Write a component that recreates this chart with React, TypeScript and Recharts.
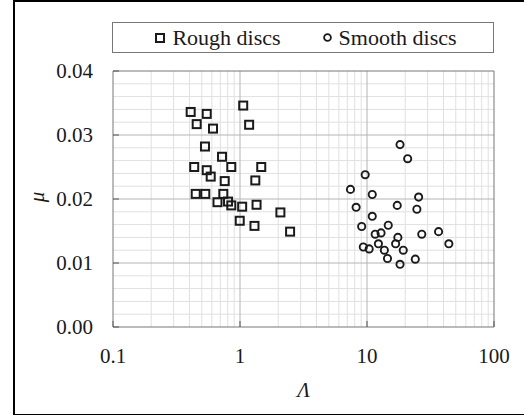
import React from 'react';
import { ScatterChart, Scatter, XAxis, YAxis, ReferenceLine, Legend, Label } from 'recharts';

// Rough discs: film parameter Λ and friction coefficient μ
const roughLambda = [0.409, 0.547, 1.06, 0.456, 0.613, 1.18, 0.53, 0.722, 0.436, 0.547, 0.854, 1.47, 0.588, 0.758, 1.32, 0.448, 0.533, 0.739, 0.665, 0.805, 0.854, 1.04, 1.35, 2.08, 0.995, 1.3, 2.48];
const roughMu = [0.0336, 0.0333, 0.0346, 0.0317, 0.031, 0.0316, 0.0282, 0.0266, 0.025, 0.0245, 0.025, 0.025, 0.0235, 0.0228, 0.0229, 0.0208, 0.0208, 0.0208, 0.0195, 0.0196, 0.019, 0.0188, 0.0191, 0.0179, 0.0166, 0.0158, 0.0149];

// Smooth discs
const smoothLambda = [18.2, 20.9, 9.68, 7.41, 11.0, 25.5, 17.3, 8.21, 24.7, 11.0, 9.08, 14.7, 11.6, 12.9, 17.5, 27.0, 36.6, 44.1, 9.35, 10.4, 12.3, 13.7, 16.8, 19.3, 14.5, 24.0, 18.2];
const smoothMu = [0.0285, 0.0263, 0.0238, 0.0215, 0.0207, 0.0203, 0.019, 0.0187, 0.0184, 0.0173, 0.0157, 0.0159, 0.0145, 0.0147, 0.014, 0.0145, 0.0149, 0.013, 0.0125, 0.0122, 0.013, 0.012, 0.013, 0.012, 0.0107, 0.0106, 0.0098];

const xTicks = [0.1, 1, 10, 100];
const yTicks = [0, 0.01, 0.02, 0.03, 0.04];
const xMajorGrid = [1, 10];
const yMajorGrid = [0.01, 0.02, 0.03];
const xMinorGrid = [0.2, 0.3, 0.4, 0.5, 0.6, 0.7, 0.8, 0.9, 2, 3, 4, 5, 6, 7, 8, 9, 20, 30, 40, 50, 60, 70, 80, 90];
const yMinorGrid = [0.002, 0.004, 0.006, 0.008, 0.012, 0.014, 0.016, 0.018, 0.022, 0.024, 0.026, 0.028, 0.032, 0.034, 0.036, 0.038];

const roughData = roughLambda.map((x, i) => ({ x, y: roughMu[i] }));
const smoothData = smoothLambda.map((x, i) => ({ x, y: smoothMu[i] }));

const FONT = '"Liberation Serif", serif';
const INK = '#1a1a1a';
const TEXT = '#1a1a1a';

const SquareShape = (p: any) => (
  <rect x={p.cx - 4} y={p.cy - 4} width={8} height={8} fill="none" stroke={INK} strokeWidth={2} />
);
const CircleShape = (p: any) => (
  <circle cx={p.cx} cy={p.cy} r={3.6} fill="none" stroke={INK} strokeWidth={1.9} />
);

const LegendBox = () => (
  <div
    style={{
      boxSizing: 'border-box',
      width: '100%',
      height: '100%',
      border: '1px solid #777',
      background: '#fff',
      display: 'flex',
      alignItems: 'center',
      justifyContent: 'center',
      paddingLeft: 6,
      fontFamily: FONT,
      fontSize: 22,
      lineHeight: 1,
      color: TEXT,
    }}
  >
    <svg width={10} height={10} style={{ display: 'block' }}>
      <rect x={1} y={1} width={8} height={8} fill="none" stroke={INK} strokeWidth={2} />
    </svg>
    <span style={{ marginLeft: 7 }}>Rough discs</span>
    <svg width={9} height={9} style={{ display: 'block', marginLeft: 42 }}>
      <circle cx={4.5} cy={4.5} r={3.4} fill="none" stroke={INK} strokeWidth={1.8} />
    </svg>
    <span style={{ marginLeft: 7 }}>Smooth discs</span>
  </div>
);

const MuLabel = (props: any) => {
  const vb = props.viewBox || { x: 53, y: 71, width: 60, height: 256 };
  const x = vb.x - 16;
  const y = vb.y + vb.height / 2 - 2;
  return (
    <text
      x={x}
      y={y}
      transform={`rotate(-90, ${x}, ${y})`}
      textAnchor="middle"
      dominantBaseline="central"
      style={{ fontFamily: FONT, fontStyle: 'italic', fontSize: 21 }}
      fill={TEXT}
    >
      μ
    </text>
  );
};

const tickStyle = { fill: TEXT, fontSize: 21, style: { fontFamily: FONT } };

export default function App() {
  return (
    <div style={{ position: 'absolute', left: 0, top: 0, width: 524, height: 415, background: '#fff', fontFamily: FONT }}>
      <div
        style={{
          position: 'absolute',
          left: 13,
          top: 0,
          width: 520,
          height: 412,
          borderLeft: '2px solid #000',
          borderTop: '2px solid #000',
          borderBottom: '2px solid #000',
        }}
      />
      <div style={{ position: 'absolute', left: 0, top: 0 }}>
        <ScatterChart width={524} height={415} margin={{ top: 71, right: 30, bottom: 18, left: 53 }} style={{ fontFamily: FONT }}>
          <XAxis
            dataKey="x"
            type="number"
            scale="log"
            domain={[0.1, 100]}
            ticks={xTicks}
            interval={0}
            allowDataOverflow
            height={70}
            tickFormatter={(v: number) => String(v)}
            tick={tickStyle}
            tickSize={-6}
            tickMargin={27}
            tickLine={{ stroke: '#555' }}
            axisLine={{ stroke: '#777' }}
            label={{ value: 'Λ', position: 'insideBottom', offset: 0, style: { fontFamily: FONT, fontStyle: 'italic', fontSize: 21, fill: TEXT } }}
          />
          <YAxis
            dataKey="y"
            type="number"
            domain={[0, 0.04]}
            ticks={yTicks}
            interval={0}
            allowDataOverflow
            width={60}
            tickFormatter={(v: number) => v.toFixed(2)}
            tick={tickStyle}
            tickSize={-6}
            tickMargin={26}
            tickLine={{ stroke: '#555' }}
            axisLine={{ stroke: '#777' }}
          >
            <Label content={MuLabel} />
          </YAxis>
          {xMinorGrid.map((v) => (
            <ReferenceLine key={'xm' + v} x={v} stroke="#e0e0e0" strokeWidth={1} />
          ))}
          {yMinorGrid.map((v) => (
            <ReferenceLine key={'ym' + v} y={v} stroke="#e0e0e0" strokeWidth={1} />
          ))}
          {xMajorGrid.map((v) => (
            <ReferenceLine key={'xM' + v} x={v} stroke="#b4b4b4" strokeWidth={1} />
          ))}
          {yMajorGrid.map((v) => (
            <ReferenceLine key={'yM' + v} y={v} stroke="#b4b4b4" strokeWidth={1} />
          ))}
          <ReferenceLine x={100} stroke="#777" strokeWidth={1} />
          <ReferenceLine y={0.04} stroke="#777" strokeWidth={1} />
          <Legend
            layout="vertical"
            align="center"
            verticalAlign="middle"
            wrapperStyle={{ position: 'absolute', left: 112, top: 22, width: 382, height: 31, margin: 0, padding: 0 }}
            content={() => <LegendBox />}
          />
          <Scatter name="Rough discs" data={roughData} shape={SquareShape} isAnimationActive={false} />
          <Scatter name="Smooth discs" data={smoothData} shape={CircleShape} isAnimationActive={false} />
        </ScatterChart>
      </div>
    </div>
  );
}
